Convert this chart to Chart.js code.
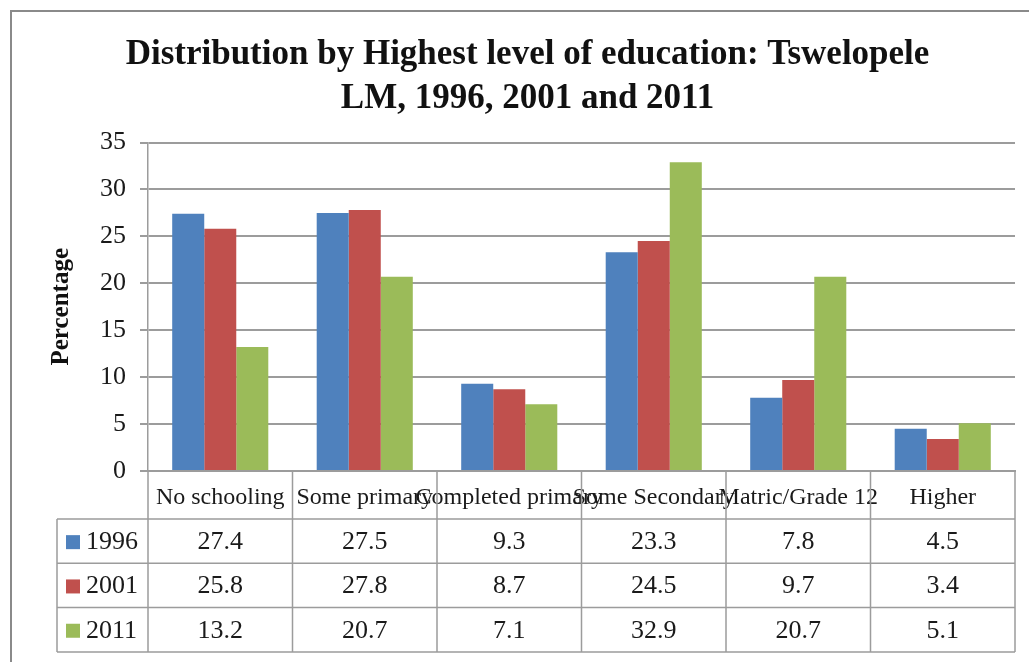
<!DOCTYPE html>
<html>
<head>
<meta charset="utf-8">
<script src="https://cdn.jsdelivr.net/npm/chart.js@4.4.1/dist/chart.umd.min.js"></script>
<style>
  html, body { margin:0; padding:0; background:#fff; overflow:hidden; }
  #wrap { position:absolute; left:0; top:0; width:1029px; height:662px; }
</style>
</head>
<body>
<div id="wrap"><canvas id="c" width="1029" height="662"></canvas></div>
<script>
const categories = ['No schooling', 'Some primary', 'Completed primary', 'Some Secondary', 'Matric/Grade 12', 'Higher'];
const seriesNames = ['1996', '2001', '2011'];
const values1996 = [27.4, 27.5, 9.3, 23.3, 7.8, 4.5];
const values2001 = [25.8, 27.8, 8.7, 24.5, 9.7, 3.4];
const values2011 = [13.2, 20.7, 7.1, 32.9, 20.7, 5.1];
const seriesColors = ['#4F81BD', '#C0504D', '#9BBB59'];
const yMin = 0, yMax = 35, yStep = 5;
const titleLines = ['Distribution by Highest level of education: Tswelopele', 'LM, 1996, 2001 and 2011'];
const yTitle = 'Percentage';

const FONT = "'Liberation Serif', 'Times New Roman', serif";
const GRID = '#9c9c9c';

const seriesValues = [values1996, values2001, values2011];

const framePlugin = {
  id: 'frame',
  beforeDraw(chart) {
    const ctx = chart.ctx;
    ctx.save();
    ctx.fillStyle = '#fff';
    ctx.fillRect(0, 0, chart.width, chart.height);
    ctx.strokeStyle = '#8a8a8a';
    ctx.lineWidth = 2;
    ctx.strokeRect(11, 11, chart.width + 40, chart.height + 40);
    ctx.restore();
  }
};

const tablePlugin = {
  id: 'dataTable',
  afterDraw(chart) {
    const ctx = chart.ctx;
    const x = chart.scales.x;
    const n = categories.length;
    const top = chart.chartArea.bottom;
    const headerBottom = x.bottom;
    const rowH = 44.3;
    const legendLeft = 57;
    const edges = [];
    for (let i = 0; i <= n; i++) {
      if (i === 0) edges.push(x.left);
      else if (i === n) edges.push(x.right);
      else edges.push((x.getPixelForValue(i - 1) + x.getPixelForValue(i)) / 2);
    }
    const tableBottom = headerBottom + rowH * seriesNames.length;
    ctx.save();
    ctx.strokeStyle = GRID;
    ctx.lineWidth = 1.5;
    ctx.beginPath();
    edges.forEach(e => { ctx.moveTo(e, top); ctx.lineTo(e, tableBottom); });
    ctx.moveTo(legendLeft, headerBottom); ctx.lineTo(legendLeft, tableBottom);
    for (let r = 0; r <= seriesNames.length; r++) {
      const yy = headerBottom + r * rowH;
      ctx.moveTo(legendLeft, yy); ctx.lineTo(x.right, yy);
    }
    ctx.stroke();

    ctx.font = "26px " + FONT;
    ctx.textBaseline = 'middle';
    seriesNames.forEach((name, r) => {
      const cy = headerBottom + r * rowH + rowH / 2;
      ctx.fillStyle = seriesColors[r];
      ctx.fillRect(66, cy - 6, 14, 14);
      ctx.fillStyle = '#1a1a1a';
      ctx.textAlign = 'left';
      ctx.fillText(name, 86, cy + 1);
      ctx.textAlign = 'center';
      seriesValues[r].forEach((v, i) => {
        ctx.fillText(v.toFixed(1), x.getPixelForValue(i), cy + 1);
      });
    });
    ctx.restore();
  }
};

new Chart(document.getElementById('c'), {
  type: 'bar',
  data: {
    labels: categories,
    datasets: seriesNames.map((name, i) => ({
      label: name,
      data: seriesValues[i],
      backgroundColor: seriesColors[i],
      borderWidth: 0,
      barPercentage: 1,
      categoryPercentage: 0.665
    }))
  },
  options: {
    responsive: false,
    animation: false,
    devicePixelRatio: 1,
    layout: { padding: { left: 40, right: 14, top: 12, bottom: 143 } },
    plugins: {
      legend: { display: false },
      tooltip: { enabled: false },
      title: {
        display: true,
        text: titleLines,
        color: '#111',
        font: { family: FONT, size: 35, weight: 'bold', lineHeight: 1.25 },
        padding: { top: 21, bottom: 22 }
      }
    },
    scales: {
      x: {
        grid: { display: false },
        border: { display: true, color: GRID, width: 2 },
        ticks: {
          autoSkip: false, maxRotation: 0, minRotation: 0,
          color: '#1a1a1a', padding: 4,
          font: { family: FONT, size: 24 }
        },
        afterFit(scale) { scale.height = 48; }
      },
      y: {
        min: yMin, max: yMax,
        ticks: {
          stepSize: yStep, color: '#1a1a1a', padding: 14,
          font: { family: FONT, size: 26 }
        },
        grid: { color: GRID, lineWidth: 2, tickLength: 8, drawTicks: true },
        border: { display: true, color: GRID, width: 1.5 },
        title: {
          display: true, text: yTitle, color: '#111',
          font: { family: FONT, size: 25, weight: 'bold' },
          padding: { top: 7, bottom: 0 }
        },
        afterFit(scale) { scale.width = 108; }
      }
    }
  },
  plugins: [framePlugin, tablePlugin]
});
</script>
</body>
</html>
